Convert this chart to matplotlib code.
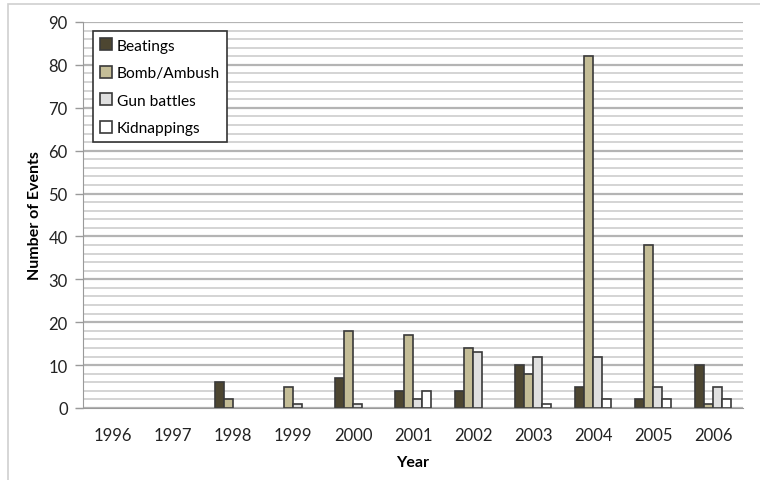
import matplotlib
matplotlib.use("Agg")
import matplotlib.pyplot as plt
import numpy as np
from matplotlib.patches import Rectangle
from matplotlib.ticker import MultipleLocator

plt.rcParams['font.family'] = ['Lato', 'DejaVu Sans']

years = ['1996', '1997', '1998', '1999', '2000', '2001', '2002', '2003', '2004', '2005', '2006']
series_names = ['Beatings', 'Bomb/Ambush', 'Gun battles', 'Kidnappings']
beatings = [0, 0, 6, 0, 7, 4, 4, 10, 5, 2, 10]
bomb_ambush = [0, 0, 2, 5, 18, 17, 14, 8, 82, 38, 1]
gun_battles = [0, 0, 0, 1, 1, 2, 13, 12, 12, 5, 5]
kidnappings = [0, 0, 0, 0, 0, 4, 0, 1, 2, 2, 2]

colors = ['#4d4631', '#c4bd97', '#e0e0e0', '#ffffff']
edge = '#3a3a3a'

fig = plt.figure(figsize=(7.6, 4.81), dpi=100)
fig.patches.append(Rectangle((8 / 760, -0.1), 1.2, 1 - 5 / 481 + 0.1,
                             transform=fig.transFigure, fill=False,
                             edgecolor='#cfcfcf', linewidth=1.2))

ax = fig.add_axes([83 / 760, 1 - 409 / 481, 660 / 760, 386 / 481])

x = np.arange(len(years))
w = 0.147
for i, (name, vals) in enumerate(zip(series_names, [beatings, bomb_ambush, gun_battles, kidnappings])):
    v = np.asarray(vals, dtype=float)
    nz = v > 0  # empty years get no bar outline
    ax.bar(x[nz] + (i - 1.5) * w, v[nz], width=w, color=colors[i], edgecolor=edge,
           linewidth=1.2, label=name, zorder=3)

ax.set_xlim(-0.5, len(years) - 0.5)
ax.set_ylim(0, 90)
ax.yaxis.set_major_locator(MultipleLocator(10))
ax.yaxis.set_minor_locator(MultipleLocator(2))
ax.grid(which='major', axis='y', color='#b4b4b4', linewidth=1.6, zorder=0)
ax.grid(which='minor', axis='y', color='#d4d4d4', linewidth=1.4, zorder=0)

ax.set_xticks(x)
ax.set_xticklabels(years)
ax.tick_params(axis='x', length=0, pad=14, labelsize=12, colors='#222222')
ax.tick_params(axis='y', which='major', length=6, width=1, color='#9a9a9a',
               labelsize=12, labelcolor='#222222', pad=5)
ax.tick_params(axis='y', which='minor', length=0)

for s in ['top', 'right']:
    ax.spines[s].set_visible(False)
ax.spines['left'].set_color('#9a9a9a')
ax.spines['bottom'].set_color('#9a9a9a')
ax.spines['bottom'].set_bounds(-0.62, len(years) - 0.5)
ax.spines['bottom'].set_zorder(4)

ax.set_ylabel('Number of Events', fontsize=11.5, fontweight='bold', labelpad=5)
ax.set_xlabel('Year', fontsize=11.5, fontweight='bold', labelpad=8)

leg = ax.legend(loc='upper left', bbox_to_anchor=(0.015, 0.976), fontsize=11.2,
                frameon=True, fancybox=False, edgecolor='#333333',
                handlelength=0.8, handleheight=0.8, handletextpad=0.3,
                labelspacing=0.85, borderpad=0.45, borderaxespad=0)
leg.get_frame().set_linewidth(1.2)
leg.get_frame().set_facecolor('white')
leg.get_frame().set_alpha(1)
leg.set_zorder(5)

fig.savefig('out.png', dpi=100, facecolor='white')
